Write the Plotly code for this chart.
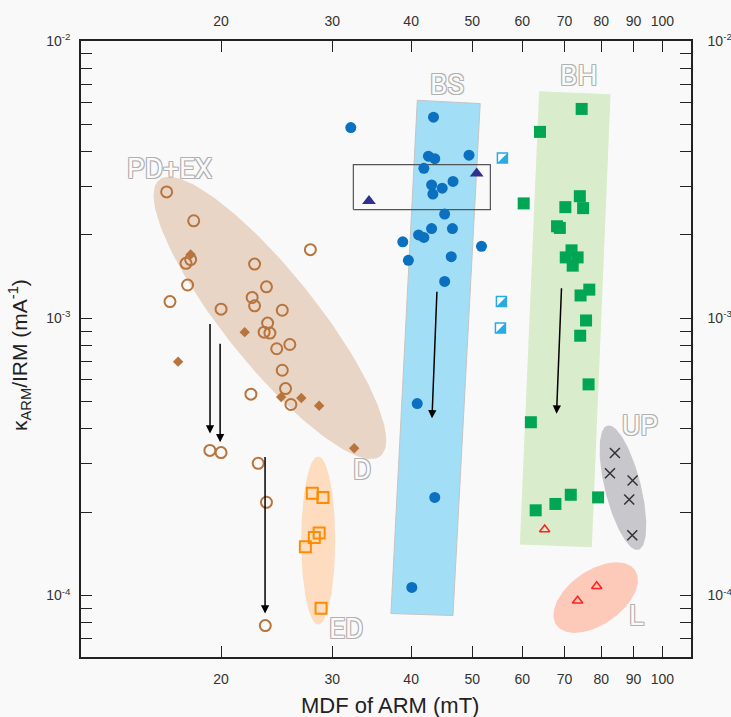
import numpy as np
import plotly.graph_objects as go

# ---------------- data ----------------
pdex_open_x = [16.4, 18.1, 27.7, 17.6, 17.9, 22.6, 17.7, 23.6, 16.6, 22.4, 22.6, 20.0, 25.0, 23.7,
               23.4, 23.9, 25.7, 24.5, 25.0, 25.3, 22.3, 25.8, 19.2, 20.0, 22.9, 23.6, 23.5]
pdex_open_y = [2.86e-3, 2.25e-3, 1.77e-3, 1.58e-3, 1.63e-3, 1.57e-3, 1.32e-3, 1.30e-3, 1.15e-3,
               1.19e-3, 1.11e-3, 1.08e-3, 1.07e-3, 9.62e-4, 8.92e-4, 8.85e-4, 8.05e-4, 7.77e-4,
               6.50e-4, 5.58e-4, 5.33e-4, 4.89e-4, 3.34e-4, 3.28e-4, 3.00e-4, 2.17e-4, 7.79e-5]
pdex_fill_x = [17.9, 21.8, 17.1, 24.9, 26.8, 28.6, 32.5]
pdex_fill_y = [1.70e-3, 8.92e-4, 6.98e-4, 5.20e-4, 5.16e-4, 4.84e-4, 3.40e-4]
ed_x = [27.9, 29.0, 28.6, 28.1, 27.2, 28.8]
ed_y = [2.34e-4, 2.26e-4, 1.68e-4, 1.62e-4, 1.50e-4, 9.0e-5]
bs_x = [32.1, 43.4, 42.6, 43.6, 49.4, 41.9, 43.1, 46.6, 44.8, 43.3, 45.2, 43.1, 46.5, 41.1,
        41.9, 38.8, 51.7, 39.6, 46.3, 45.2, 40.9, 43.6, 40.1]
bs_y = [4.88e-3, 5.32e-3, 3.85e-3, 3.77e-3, 3.88e-3, 3.48e-3, 3.03e-3, 3.12e-3, 2.95e-3,
        2.81e-3, 2.38e-3, 2.11e-3, 2.11e-3, 2.00e-3, 1.96e-3, 1.89e-3, 1.82e-3, 1.62e-3,
        1.67e-3, 1.36e-3, 4.93e-4, 2.26e-4, 1.07e-4]
tri_x = [34.3, 50.8]
tri_y = [2.65e-3, 3.33e-3]
half_x = [55.8, 55.6, 55.4]
half_y = [3.79e-3, 1.15e-3, 9.23e-4]
bh_x = [74.5, 64.0, 60.3, 74.0, 70.2, 74.9, 68.1, 68.8, 71.8, 70.3, 73.4, 72.1, 76.6, 74.2,
        75.7, 74.1, 76.4, 61.9, 71.6, 67.7, 63.0, 79.1]
bh_y = [5.70e-3, 4.71e-3, 2.60e-3, 2.76e-3, 2.52e-3, 2.50e-3, 2.15e-3, 2.12e-3, 1.76e-3,
        1.66e-3, 1.66e-3, 1.55e-3, 1.27e-3, 1.21e-3, 9.83e-4, 8.66e-4, 5.78e-4, 4.22e-4,
        2.31e-4, 2.14e-4, 2.03e-4, 2.26e-4]
l_x = [65.1, 78.7, 73.4]
l_y = [1.73e-4, 1.08e-4, 9.57e-5]
up_x = [84.1, 82.6, 89.7, 88.6, 89.6]
up_y = [3.27e-4, 2.76e-4, 2.60e-4, 2.22e-4, 1.65e-4]

x_ticks = [20, 30, 40, 50, 60, 70, 80, 90, 100]
y_ticks = [1e-4, 1e-3, 1e-2]
y_ticktext = ["10<sup>-4</sup>", "10<sup>-3</sup>", "10<sup>-2</sup>"]

# ---------------- layout geometry ----------------
W, H = 731, 717
ML, MR, MT, MB = 81, 40, 41, 60
PW, PH = W - ML - MR, H - MT - MB
XR = [np.log10(12.0), np.log10(111.0)]
YR = [np.log10(6e-5), -1.999]
PPD_X = PW / (XR[1] - XR[0])
PPD_Y = PH / (YR[1] - YR[0])

def ellipse(cx, cy, a_px, b_px, ang_deg, n=160):
    t = np.linspace(0, 2 * np.pi, n)
    th = np.radians(ang_deg)
    dx = a_px * np.cos(t) * np.cos(th) - b_px * np.sin(t) * np.sin(th)
    dy = a_px * np.cos(t) * np.sin(th) + b_px * np.sin(t) * np.cos(th)
    return 10 ** (np.log10(cx) + dx / PPD_X), 10 ** (np.log10(cy) - dy / PPD_Y)

regions_ellipse = [
    # center x, center y, semi-major px, semi-minor px, angle, color
    (23.9, 1.004e-3, 177, 46, 51.3, "#e8d5c5"),   # PD+EX
    (28.5, 1.58e-4, 84, 17, 90, "#fddcc0"),        # ED
    (86.6, 2.45e-4, 64, 18, 76, "#c7c7cc"),        # UP
    (78.4, 9.83e-5, 48, 27, -35, "#fdcab9"),       # L
]
bs_rect_x = [40.91, 51.46, 46.59, 37.16]
bs_rect_y = [6.124e-3, 5.958e-3, 8.47e-5, 8.61e-5]
bh_rect_x = [63.80, 82.77, 77.31, 59.47]
bh_rect_y = [6.598e-3, 6.436e-3, 1.494e-4, 1.528e-4]
box_x = [32.4, 53.4]
box_y = [2.47e-3, 3.59e-3]

fig = go.Figure()

for cx, cy, a, b, ang, col in regions_ellipse:
    ex, ey = ellipse(cx, cy, a, b, ang)
    fig.add_trace(go.Scatter(x=ex, y=ey, mode="lines", fill="toself", fillcolor=col,
                             line=dict(width=0, color=col), hoverinfo="skip", showlegend=False))

fig.add_trace(go.Scatter(x=bs_rect_x + bs_rect_x[:1], y=bs_rect_y + bs_rect_y[:1], mode="lines",
                         fill="toself", fillcolor="#a2dff6", line=dict(width=1, color="#c4c4c4"),
                         hoverinfo="skip", showlegend=False))
fig.add_trace(go.Scatter(x=bh_rect_x + bh_rect_x[:1], y=bh_rect_y + bh_rect_y[:1], mode="lines",
                         fill="toself", fillcolor="#d9eccb", line=dict(width=0, color="#d9eccb"),
                         hoverinfo="skip", showlegend=False))
fig.add_trace(go.Scatter(x=[box_x[0], box_x[1], box_x[1], box_x[0], box_x[0]],
                         y=[box_y[0], box_y[0], box_y[1], box_y[1], box_y[0]], mode="lines",
                         line=dict(width=1.2, color="#555555"), hoverinfo="skip", showlegend=False))

brown = "#b8743d"
fig.add_trace(go.Scatter(x=pdex_open_x, y=pdex_open_y, mode="markers", showlegend=False,
                         marker=dict(symbol="circle-open", size=11, color=brown, line=dict(width=2, color=brown))))
fig.add_trace(go.Scatter(x=pdex_fill_x, y=pdex_fill_y, mode="markers", showlegend=False,
                         marker=dict(symbol="diamond", size=8, color=brown, line=dict(width=0))))
fig.add_trace(go.Scatter(x=ed_x, y=ed_y, mode="markers", showlegend=False,
                         marker=dict(symbol="square-open", size=11, color="#ff8c00", line=dict(width=2, color="#ff8c00"))))
fig.add_trace(go.Scatter(x=bs_x, y=bs_y, mode="markers", showlegend=False,
                         marker=dict(symbol="circle", size=11, color="#0a70bf", line=dict(width=0))))
fig.add_trace(go.Scatter(x=tri_x, y=tri_y, mode="markers", showlegend=False,
                         marker=dict(symbol="triangle-up", size=12, color="#2e3192", line=dict(width=0))))
# half-filled squares: white square with blue border + blue lower-right triangle
sq = 10
fig.add_trace(go.Scatter(x=half_x, y=half_y, mode="markers", showlegend=False,
                         marker=dict(symbol="square", size=sq, color="#ffffff", line=dict(width=1.5, color="#29abe2"))))
shift = sq / 6.0
half_tx = [v * 10 ** (shift / PPD_X) for v in half_x]
half_ty = [v * 10 ** (-shift / PPD_Y) for v in half_y]
fig.add_trace(go.Scatter(x=half_tx, y=half_ty, mode="markers", showlegend=False,
                         marker=dict(symbol="triangle-se", size=sq / 0.9, color="#29abe2", line=dict(width=0))))
fig.add_trace(go.Scatter(x=bh_x, y=bh_y, mode="markers", showlegend=False,
                         marker=dict(symbol="square", size=12, color="#00a651", line=dict(width=0))))
fig.add_trace(go.Scatter(x=l_x, y=l_y, mode="markers", showlegend=False,
                         marker=dict(symbol="triangle-up-open", size=9, color="#ff2020", line=dict(width=1.5, color="#ff2020"))))
fig.add_trace(go.Scatter(x=up_x, y=up_y, mode="markers", showlegend=False,
                         marker=dict(symbol="x-thin-open", size=10, color="#333333", line=dict(width=1.5, color="#333333"))))
# dummy trace for secondary axes
fig.add_trace(go.Scatter(x=[50], y=[1e-3], xaxis="x2", yaxis="y2", mode="markers",
                         marker=dict(opacity=0), hoverinfo="skip", showlegend=False))

# ---------------- annotations ----------------
outline = "-1px -1px 0 #b0b0b0, 1px -1px 0 #b0b0b0, -1px 1px 0 #b0b0b0, 1px 1px 0 #b0b0b0"
labels = [("PD+EX", 16.55, 3.465e-3), ("BS", 45.6, 7.0e-3), ("BH", 73.7, 7.54e-3),
          ("D", 33.4, 2.85e-4), ("ED", 31.5, 7.6e-5), ("UP", 92.1, 4.11e-4), ("L", 91.1, 8.47e-5)]
ann = []
for txt, lx, ly in labels:
    ann.append(dict(x=np.log10(lx), y=np.log10(ly), xref="x", yref="y", text=txt, showarrow=False,
                    xanchor="center", yanchor="middle",
                    font=dict(family="Roboto", size=28, color="#fafafa", shadow=outline)))

arrows = [(19.21, 3.84e-4, 0, -111), (19.93, 3.57e-4, 0, -100), (23.48, 8.61e-5, 0, -158),
          (43.16, 4.36e-4, 5, -128), (67.98, 4.53e-4, 5, -127)]
for hx, hy, axp, ayp in arrows:
    ann.append(dict(x=np.log10(hx), y=np.log10(hy), xref="x", yref="y", ax=axp, ay=ayp, text="",
                    showarrow=True, arrowhead=2, arrowsize=1.1, arrowwidth=1.5, arrowcolor="#000000",
                    standoff=0, startstandoff=0))

ann.append(dict(x=(390 - ML) / PW, y=(MT + PH - 705) / PH, xref="paper", yref="paper",
                xanchor="center", yanchor="middle",
                text="MDF of ARM (mT)", showarrow=False,
                font=dict(family="Liberation Sans, Arial", size=22, color="#222222")))
ann.append(dict(x=(19 - ML) / PW, y=(MT + PH - 355) / PH, xref="paper", yref="paper",
                xanchor="center", yanchor="middle",
                text="κ<sub>ARM</sub>/IRM (mA<sup>-1</sup>)", showarrow=False, textangle=-90,
                font=dict(family="Liberation Sans, Arial", size=21, color="#222222")))

tickfont = dict(family="Liberation Sans, Arial", size=14, color="#333333")
axcol = "#222222"
minor_y = [m * 10.0 ** e for e in (-5, -4, -3) for m in range(2, 10)]
minor_y = [v for v in minor_y if 6e-5 < v < 1e-2]

xcommon = dict(type="log", range=XR, tickmode="array", tickvals=x_ticks, automargin=False,
               ticktext=[str(v) for v in x_ticks], ticks="inside", ticklen=11, tickwidth=1.3,
               tickcolor=axcol, showline=True, linecolor=axcol, linewidth=1.5, showgrid=False,
               zeroline=False, tickfont=tickfont)
ycommon = dict(type="log", range=YR, tickmode="array", tickvals=y_ticks, ticktext=y_ticktext,
               automargin=False,
               ticks="inside", ticklen=11, tickwidth=1.3, tickcolor=axcol, showline=True,
               linecolor=axcol, linewidth=1.5, showgrid=False, zeroline=False, tickfont=tickfont,
               minor=dict(tickmode="array", tickvals=minor_y, ticks="inside", ticklen=11,
                          tickwidth=1.3, tickcolor=axcol, showgrid=False))

fig.update_layout(
    template="none",
    width=W, height=H,
    margin=dict(l=ML, r=MR, t=MT, b=MB),
    paper_bgcolor="#f9f9f9", plot_bgcolor="#f9f9f9",
    showlegend=False,
    xaxis=dict(**xcommon, side="bottom", ticklabelstandoff=8),
    xaxis2=dict(**xcommon, side="top", overlaying="x", ticklabelstandoff=8),
    yaxis=dict(**ycommon, side="left", ticklabelstandoff=6),
    yaxis2=dict(**ycommon, side="right", overlaying="y", ticklabelstandoff=12),
    annotations=ann,
)

fig.write_html("out.html", config={"displayModeBar": False},
               post_script="document.body.style.margin='0px';document.body.style.overflow='hidden';")
